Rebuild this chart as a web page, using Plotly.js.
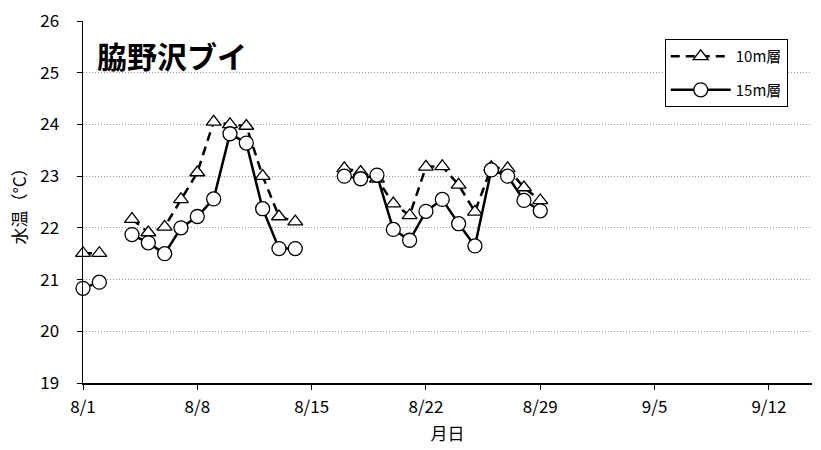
<!DOCTYPE html>
<html>
<head>
<meta charset="utf-8">
<script src="https://cdn.plot.ly/plotly-3.0.1.min.js"></script>
<style>html,body{margin:0;padding:0;background:#fff;}#chart{width:821px;height:450px;}</style>
</head>
<body>
<div id="chart"></div>
<script>
const dates = ['2023-08-01','2023-08-02','2023-08-03','2023-08-04','2023-08-05','2023-08-06','2023-08-07','2023-08-08','2023-08-09','2023-08-10','2023-08-11','2023-08-12','2023-08-13','2023-08-14','2023-08-15','2023-08-16','2023-08-17','2023-08-18','2023-08-19','2023-08-20','2023-08-21','2023-08-22','2023-08-23','2023-08-24','2023-08-25','2023-08-26','2023-08-27','2023-08-28','2023-08-29'];
const temp10m = [21.51,21.51,null,22.17,21.91,22.02,22.55,23.07,24.05,24.0,23.97,23.0,22.22,22.12,null,null,23.15,23.08,22.95,22.47,22.24,23.18,23.19,22.83,22.31,23.17,23.15,22.78,22.53];
const temp15m = [20.83,20.95,null,21.87,21.71,21.5,22.0,22.22,22.56,23.82,23.64,22.37,21.6,21.6,null,null,23.0,22.95,23.02,21.97,21.76,22.32,22.55,22.08,21.65,23.12,23.0,22.53,22.33];
const seriesNames = ['10m層','15m層'];
const tickDates = ['2023-08-01','2023-08-08','2023-08-15','2023-08-22','2023-08-29','2023-09-05','2023-09-12'];
const tickLabels = ['8/1','8/8','8/15','8/22','8/29','9/5','9/12'];

const font = 'Noto Sans CJK JP, Noto Sans, sans-serif';

const traces = [
  {x: dates, y: temp10m, name: seriesNames[0], legendgroup: 'a', type: 'scatter', mode: 'lines+markers', connectgaps: false, cliponaxis: false,
   line: {color: '#000', width: 2.5, dash: '9px,6px'},
   marker: {symbol: 'triangle-up', size: 13, color: '#fff', line: {color: '#000', width: 1.3}}},
  {x: dates, y: temp15m, name: seriesNames[1], legendgroup: 'b', type: 'scatter', mode: 'lines+markers', connectgaps: false, cliponaxis: false,
   line: {color: '#000', width: 2.5},
   marker: {symbol: 'circle', size: 14, color: '#fff', line: {color: '#000', width: 1.3}}}
];

const layout = {
  width: 821, height: 450,
  margin: {l: 83, r: 9, t: 21, b: 67},
  paper_bgcolor: '#fff', plot_bgcolor: '#fff',
  font: {family: font, color: '#000', size: 16},
  showlegend: true,
  legend: {x: 0.798, y: 0.95, xanchor: 'left', yanchor: 'top', bgcolor: '#fff',
           bordercolor: '#000', borderwidth: 1, font: {size: 15, family: font},
           itemwidth: 60, traceorder: 'grouped', tracegroupgap: 11},
  xaxis: {type: 'date', range: ['2023-08-01', '2023-09-14 15:20'],
          tickvals: tickDates, ticktext: tickLabels,
          showgrid: false, zeroline: false, showline: true, linecolor: '#000', linewidth: 1.5,
          ticks: 'outside', ticklen: 5, tickcolor: '#000', tickfont: {size: 17, family: font},
          ticklabelstandoff: 3,
          title: {text: '月日', font: {size: 17, family: font}, standoff: 11}},
  yaxis: {range: [19, 26], dtick: 1, tick0: 19,
          showgrid: true, gridcolor: '#999', griddash: '1px,2px', gridwidth: 1,
          zeroline: false, showline: true, linecolor: '#000', linewidth: 1.5,
          ticks: 'outside', ticklen: 5, tickcolor: '#000', tickfont: {size: 17, family: font},
          ticklabelstandoff: 14,
          title: {text: '水温（°C）', font: {size: 17, family: font}, standoff: 9}},
  annotations: [
    {xref: 'paper', yref: 'paper', x: 0.016, y: 0.905, xanchor: 'left', yanchor: 'middle',
     text: '<b>脇野沢ブイ</b>', showarrow: false, font: {size: 30, family: font, color: '#000'}}
  ]
};

Plotly.newPlot('chart', traces, layout, {displayModeBar: false, staticPlot: true});
</script>
</body>
</html>
